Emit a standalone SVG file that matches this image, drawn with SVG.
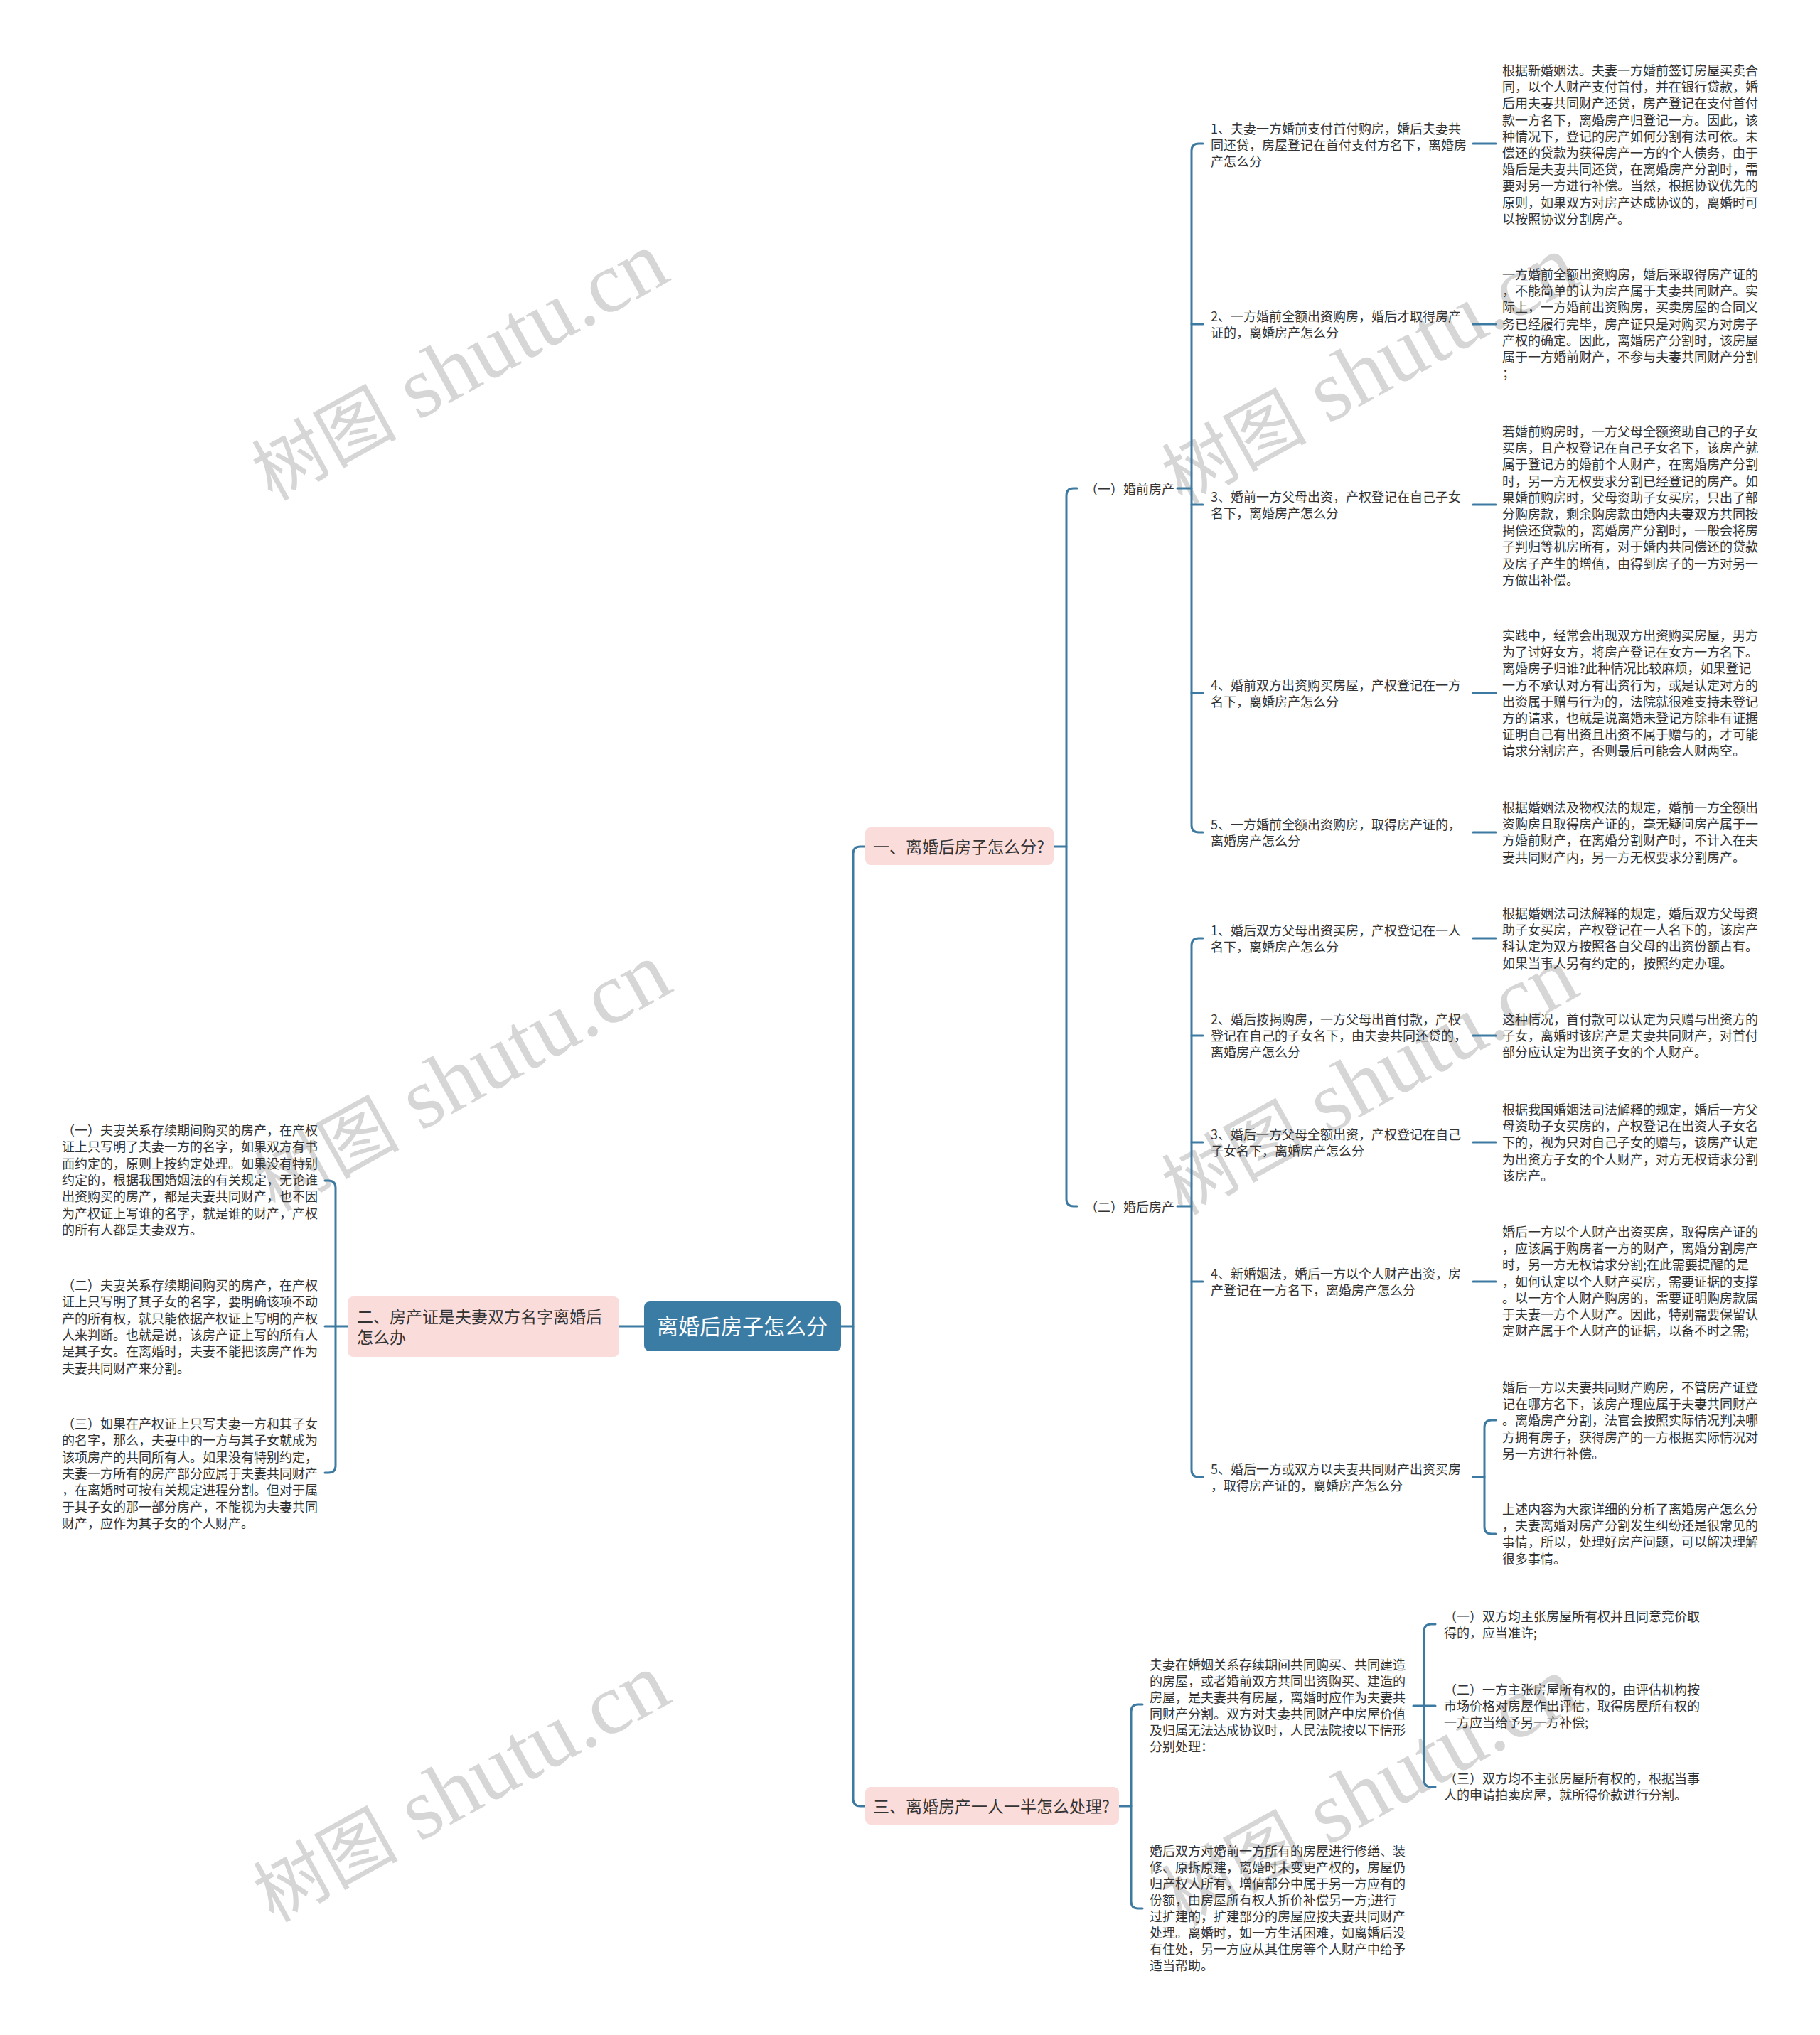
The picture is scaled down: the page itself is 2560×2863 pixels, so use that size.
<svg xmlns="http://www.w3.org/2000/svg" width="2560" height="2863" viewBox="0 0 2560 2863">
<style>
.t{font-family:'Noto Sans CJK SC','Noto Sans',sans-serif;font-size:18px;fill:#333}
.b{font-size:23px}
.r{font-size:30px;fill:#fff}
.c{fill:none;stroke:#3d7aa1;stroke-width:3;stroke-linecap:round}
.wm{font-family:'Liberation Serif','Noto Sans CJK SC',serif;fill:#d6d6d6}
.pk{fill:#fadcdb}
</style>
<rect width="2560" height="2863" fill="#fff"/>
<g id="watermarks">
<g transform="translate(646,516) rotate(-29)"><text class="wm" text-anchor="middle" y="38"><tspan font-size="102">树图</tspan><tspan font-size="122"> shutu.cn</tspan></text></g>
<g transform="translate(650,1516) rotate(-29)"><text class="wm" text-anchor="middle" y="38"><tspan font-size="102">树图</tspan><tspan font-size="122"> shutu.cn</tspan></text></g>
<g transform="translate(648,2516) rotate(-29)"><text class="wm" text-anchor="middle" y="38"><tspan font-size="102">树图</tspan><tspan font-size="122"> shutu.cn</tspan></text></g>
<g transform="translate(1926,521) rotate(-29)"><text class="wm" text-anchor="middle" y="38"><tspan font-size="102">树图</tspan><tspan font-size="122"> shutu.cn</tspan></text></g>
<g transform="translate(1926,1521) rotate(-29)"><text class="wm" text-anchor="middle" y="38"><tspan font-size="102">树图</tspan><tspan font-size="122"> shutu.cn</tspan></text></g>
<g transform="translate(1926,2521) rotate(-29)"><text class="wm" text-anchor="middle" y="38"><tspan font-size="102">树图</tspan><tspan font-size="122"> shutu.cn</tspan></text></g>
</g>
<g id="connectors">
<path class="c" d="M1183,1866 H1200"/>
<path class="c" d="M1217,1191 H1210 Q1200,1191 1200,1201 V2531 Q1200,2541 1210,2541 H1217"/>
<path class="c" d="M906,1866 H871"/>
<path class="c" d="M457,1661 H462 Q472,1661 472,1671 V2062 Q472,2072 462,2072 H457"/>
<path class="c" d="M489,1866 H457"/>
<path class="c" d="M1482,1191 H1500"/>
<path class="c" d="M1515,687 H1510 Q1500,687 1500,697 V1687 Q1500,1697 1510,1697 H1515"/>
<path class="c" d="M1656,687 H1676"/>
<path class="c" d="M1692,202 H1686 Q1676,202 1676,212 V1161 Q1676,1171 1686,1171 H1692"/>
<path class="c" d="M1676,456 H1692 M1676,710 H1692 M1676,975 H1692"/>
<path class="c" d="M1656,1697 H1676"/>
<path class="c" d="M1692,1320 H1686 Q1676,1320 1676,1330 V2068 Q1676,2078 1686,2078 H1692"/>
<path class="c" d="M1676,1457 H1692 M1676,1607 H1692 M1676,1803 H1692"/>
<path class="c" d="M2072,202 H2104 M2072,456 H2104 M2072,710 H2104 M2072,975 H2104 M2072,1171 H2104 M2072,1320 H2104 M2072,1457 H2104 M2072,1607 H2104 M2072,1803 H2104"/>
<path class="c" d="M2072,2078 H2088"/>
<path class="c" d="M2104,1998 H2098 Q2088,1998 2088,2008 V2148 Q2088,2158 2098,2158 H2104"/>
<path class="c" d="M1574,2541 H1591"/>
<path class="c" d="M1607,2398 H1601 Q1591,2398 1591,2408 V2675 Q1591,2685 1601,2685 H1607"/>
<path class="c" d="M1988,2400 H2019"/>
<path class="c" d="M2019,2285 H2013 Q2003,2285 2003,2295 V2504 Q2003,2514 2013,2514 H2019"/>
</g>
<g id="root">
<rect x="906" y="1831" width="277" height="70" rx="8" fill="#3b7ca5"/>
<text class="t r" x="1044" y="1877" text-anchor="middle">离婚后房子怎么分</text>
</g>
<g id="branch1">
<rect class="pk" x="1217" y="1164" width="265" height="53" rx="8"/>
<text class="t b" x="1228" y="1200">一、离婚后房子怎么分?</text>
</g>
<g id="branch2">
<rect class="pk" x="489" y="1824" width="382" height="85" rx="8"/>
<text class="t b" x="502" y="1861">二、房产证是夫妻双方名字离婚后<tspan x="502" dy="29">怎么办</tspan></text>
</g>
<g id="branch3">
<rect class="pk" x="1217" y="2514" width="357" height="53" rx="8"/>
<text class="t b" x="1228" y="2550">三、离婚房产一人一半怎么处理?</text>
</g>
<g id="pre">
<text class="t" x="1526" y="695">（一）婚前房产</text>
</g>
<g id="post">
<text class="t" x="1526" y="1705">（二）婚后房产</text>
</g>
<g id="i1"><text class="t" x="1703" y="188">1、夫妻一方婚前支付首付购房，婚后夫妻共<tspan x="1703" dy="23">同还贷，房屋登记在首付支付方名下，离婚房</tspan><tspan x="1703" dy="23">产怎么分</tspan></text></g>
<g id="i2"><text class="t" x="1703" y="452">2、一方婚前全额出资购房，婚后才取得房产<tspan x="1703" dy="23">证的，离婚房产怎么分</tspan></text></g>
<g id="i3"><text class="t" x="1703" y="706">3、婚前一方父母出资，产权登记在自己子女<tspan x="1703" dy="23">名下，离婚房产怎么分</tspan></text></g>
<g id="i4"><text class="t" x="1703" y="971">4、婚前双方出资购买房屋，产权登记在一方<tspan x="1703" dy="23">名下，离婚房产怎么分</tspan></text></g>
<g id="i5"><text class="t" x="1703" y="1167">5、一方婚前全额出资购房，取得房产证的，<tspan x="1703" dy="23">离婚房产怎么分</tspan></text></g>
<g id="j1"><text class="t" x="1703" y="1316">1、婚后双方父母出资买房，产权登记在一人<tspan x="1703" dy="23">名下，离婚房产怎么分</tspan></text></g>
<g id="j2"><text class="t" x="1703" y="1441">2、婚后按揭购房，一方父母出首付款，产权<tspan x="1703" dy="23">登记在自己的子女名下，由夫妻共同还贷的，</tspan><tspan x="1703" dy="23">离婚房产怎么分</tspan></text></g>
<g id="j3"><text class="t" x="1703" y="1603">3、婚后一方父母全额出资，产权登记在自己<tspan x="1703" dy="23">子女名下，离婚房产怎么分</tspan></text></g>
<g id="j4"><text class="t" x="1703" y="1799">4、新婚姻法，婚后一方以个人财产出资，房<tspan x="1703" dy="23">产登记在一方名下，离婚房产怎么分</tspan></text></g>
<g id="j5"><text class="t" x="1703" y="2074">5、婚后一方或双方以夫妻共同财产出资买房<tspan x="1703" dy="23">，取得房产证的，离婚房产怎么分</tspan></text></g>
<g id="d1"><text class="t" x="2113" y="106">根据新婚姻法。夫妻一方婚前签订房屋买卖合<tspan x="2113" dy="23.2">同，以个人财产支付首付，并在银行贷款，婚</tspan><tspan x="2113" dy="23.2">后用夫妻共同财产还贷，房产登记在支付首付</tspan><tspan x="2113" dy="23.2">款一方名下，离婚房产归登记一方。因此，该</tspan><tspan x="2113" dy="23.2">种情况下，登记的房产如何分割有法可依。未</tspan><tspan x="2113" dy="23.2">偿还的贷款为获得房产一方的个人债务，由于</tspan><tspan x="2113" dy="23.2">婚后是夫妻共同还贷，在离婚房产分割时，需</tspan><tspan x="2113" dy="23.2">要对另一方进行补偿。当然，根据协议优先的</tspan><tspan x="2113" dy="23.2">原则，如果双方对房产达成协议的，离婚时可</tspan><tspan x="2113" dy="23.2">以按照协议分割房产。</tspan></text></g>
<g id="d2"><text class="t" x="2113" y="393">一方婚前全额出资购房，婚后采取得房产证的<tspan x="2113" dy="23.2">，不能简单的认为房产属于夫妻共同财产。实</tspan><tspan x="2113" dy="23.2">际上，一方婚前出资购房，买卖房屋的合同义</tspan><tspan x="2113" dy="23.2">务已经履行完毕，房产证只是对购买方对房子</tspan><tspan x="2113" dy="23.2">产权的确定。因此，离婚房产分割时，该房屋</tspan><tspan x="2113" dy="23.2">属于一方婚前财产，不参与夫妻共同财产分割</tspan><tspan x="2113" dy="23.2">；</tspan></text></g>
<g id="d3"><text class="t" x="2113" y="614">若婚前购房时，一方父母全额资助自己的子女<tspan x="2113" dy="23.2">买房，且产权登记在自己子女名下，该房产就</tspan><tspan x="2113" dy="23.2">属于登记方的婚前个人财产，在离婚房产分割</tspan><tspan x="2113" dy="23.2">时，另一方无权要求分割已经登记的房产。如</tspan><tspan x="2113" dy="23.2">果婚前购房时，父母资助子女买房，只出了部</tspan><tspan x="2113" dy="23.2">分购房款，剩余购房款由婚内夫妻双方共同按</tspan><tspan x="2113" dy="23.2">揭偿还贷款的，离婚房产分割时，一般会将房</tspan><tspan x="2113" dy="23.2">子判归等机房所有，对于婚内共同偿还的贷款</tspan><tspan x="2113" dy="23.2">及房子产生的增值，由得到房子的一方对另一</tspan><tspan x="2113" dy="23.2">方做出补偿。</tspan></text></g>
<g id="d4"><text class="t" x="2113" y="901">实践中，经常会出现双方出资购买房屋，男方<tspan x="2113" dy="23.2">为了讨好女方，将房产登记在女方一方名下。</tspan><tspan x="2113" dy="23.2">离婚房子归谁?此种情况比较麻烦，如果登记</tspan><tspan x="2113" dy="23.2">一方不承认对方有出资行为，或是认定对方的</tspan><tspan x="2113" dy="23.2">出资属于赠与行为的，法院就很难支持未登记</tspan><tspan x="2113" dy="23.2">方的请求，也就是说离婚未登记方除非有证据</tspan><tspan x="2113" dy="23.2">证明自己有出资且出资不属于赠与的，才可能</tspan><tspan x="2113" dy="23.2">请求分割房产，否则最后可能会人财两空。</tspan></text></g>
<g id="d5"><text class="t" x="2113" y="1143">根据婚姻法及物权法的规定，婚前一方全额出<tspan x="2113" dy="23.2">资购房且取得房产证的，毫无疑问房产属于一</tspan><tspan x="2113" dy="23.2">方婚前财产，在离婚分割财产时，不计入在夫</tspan><tspan x="2113" dy="23.2">妻共同财产内，另一方无权要求分割房产。</tspan></text></g>
<g id="d6"><text class="t" x="2113" y="1292">根据婚姻法司法解释的规定，婚后双方父母资<tspan x="2113" dy="23.2">助子女买房，产权登记在一人名下的，该房产</tspan><tspan x="2113" dy="23.2">科认定为双方按照各自父母的出资份额占有。</tspan><tspan x="2113" dy="23.2">如果当事人另有约定的，按照约定办理。</tspan></text></g>
<g id="d7"><text class="t" x="2113" y="1441">这种情况，首付款可以认定为只赠与出资方的<tspan x="2113" dy="23.2">子女，离婚时该房产是夫妻共同财产，对首付</tspan><tspan x="2113" dy="23.2">部分应认定为出资子女的个人财产。</tspan></text></g>
<g id="d8"><text class="t" x="2113" y="1568">根据我国婚姻法司法解释的规定，婚后一方父<tspan x="2113" dy="23.2">母资助子女买房的，产权登记在出资人子女名</tspan><tspan x="2113" dy="23.2">下的，视为只对自己子女的赠与，该房产认定</tspan><tspan x="2113" dy="23.2">为出资方子女的个人财产，对方无权请求分割</tspan><tspan x="2113" dy="23.2">该房产。</tspan></text></g>
<g id="d9"><text class="t" x="2113" y="1740">婚后一方以个人财产出资买房，取得房产证的<tspan x="2113" dy="23.2">，应该属于购房者一方的财产，离婚分割房产</tspan><tspan x="2113" dy="23.2">时，另一方无权请求分割;在此需要提醒的是</tspan><tspan x="2113" dy="23.2">，如何认定以个人财产买房，需要证据的支撑</tspan><tspan x="2113" dy="23.2">。以一方个人财产购房的，需要证明购房款属</tspan><tspan x="2113" dy="23.2">于夫妻一方个人财产。因此，特别需要保留认</tspan><tspan x="2113" dy="23.2">定财产属于个人财产的证据，以备不时之需;</tspan></text></g>
<g id="d10a"><text class="t" x="2113" y="1959">婚后一方以夫妻共同财产购房，不管房产证登<tspan x="2113" dy="23.2">记在哪方名下，该房产理应属于夫妻共同财产</tspan><tspan x="2113" dy="23.2">。离婚房产分割，法官会按照实际情况判决哪</tspan><tspan x="2113" dy="23.2">方拥有房子，获得房产的一方根据实际情况对</tspan><tspan x="2113" dy="23.2">另一方进行补偿。</tspan></text></g>
<g id="d10b"><text class="t" x="2113" y="2130">上述内容为大家详细的分析了离婚房产怎么分<tspan x="2113" dy="23.2">，夫妻离婚对房产分割发生纠纷还是很常见的</tspan><tspan x="2113" dy="23.2">事情，所以，处理好房产问题，可以解决理解</tspan><tspan x="2113" dy="23.2">很多事情。</tspan></text></g>
<g id="l1"><text class="t" x="87" y="1597">（一）夫妻关系存续期间购买的房产，在产权<tspan x="87" dy="23.3">证上只写明了夫妻一方的名字，如果双方有书</tspan><tspan x="87" dy="23.3">面约定的，原则上按约定处理。如果没有特别</tspan><tspan x="87" dy="23.3">约定的，根据我国婚姻法的有关规定，无论谁</tspan><tspan x="87" dy="23.3">出资购买的房产，都是夫妻共同财产，也不因</tspan><tspan x="87" dy="23.3">为产权证上写谁的名字，就是谁的财产，产权</tspan><tspan x="87" dy="23.3">的所有人都是夫妻双方。</tspan></text></g>
<g id="l2"><text class="t" x="87" y="1815">（二）夫妻关系存续期间购买的房产，在产权<tspan x="87" dy="23.3">证上只写明了其子女的名字，要明确该项不动</tspan><tspan x="87" dy="23.3">产的所有权，就只能依据产权证上写明的产权</tspan><tspan x="87" dy="23.3">人来判断。也就是说，该房产证上写的所有人</tspan><tspan x="87" dy="23.3">是其子女。在离婚时，夫妻不能把该房产作为</tspan><tspan x="87" dy="23.3">夫妻共同财产来分割。</tspan></text></g>
<g id="l3"><text class="t" x="87" y="2010">（三）如果在产权证上只写夫妻一方和其子女<tspan x="87" dy="23.3">的名字，那么，夫妻中的一方与其子女就成为</tspan><tspan x="87" dy="23.3">该项房产的共同所有人。如果没有特别约定，</tspan><tspan x="87" dy="23.3">夫妻一方所有的房产部分应属于夫妻共同财产</tspan><tspan x="87" dy="23.3">，在离婚时可按有关规定进程分割。但对于属</tspan><tspan x="87" dy="23.3">于其子女的那一部分房产，不能视为夫妻共同</tspan><tspan x="87" dy="23.3">财产，应作为其子女的个人财产。</tspan></text></g>
<g id="b3a"><text class="t" x="1617" y="2349">夫妻在婚姻关系存续期间共同购买、共同建造<tspan x="1617" dy="23">的房屋，或者婚前双方共同出资购买、建造的</tspan><tspan x="1617" dy="23">房屋，是夫妻共有房屋，离婚时应作为夫妻共</tspan><tspan x="1617" dy="23">同财产分割。双方对夫妻共同财产中房屋价值</tspan><tspan x="1617" dy="23">及归属无法达成协议时，人民法院按以下情形</tspan><tspan x="1617" dy="23">分别处理：</tspan></text></g>
<g id="c1"><text class="t" x="2031" y="2281">（一）双方均主张房屋所有权并且同意竞价取<tspan x="2031" dy="23">得的，应当准许;</tspan></text></g>
<g id="c2"><text class="t" x="2031" y="2384">（二）一方主张房屋所有权的，由评估机构按<tspan x="2031" dy="23">市场价格对房屋作出评估，取得房屋所有权的</tspan><tspan x="2031" dy="23">一方应当给予另一方补偿;</tspan></text></g>
<g id="c3"><text class="t" x="2031" y="2509">（三）双方均不主张房屋所有权的，根据当事<tspan x="2031" dy="23">人的申请拍卖房屋，就所得价款进行分割。</tspan></text></g>
<g id="b3b"><text class="t" x="1617" y="2611">婚后双方对婚前一方所有的房屋进行修缮、装<tspan x="1617" dy="23">修、原拆原建，离婚时未变更产权的，房屋仍</tspan><tspan x="1617" dy="23">归产权人所有，增值部分中属于另一方应有的</tspan><tspan x="1617" dy="23">份额，由房屋所有权人折价补偿另一方;进行</tspan><tspan x="1617" dy="23">过扩建的，扩建部分的房屋应按夫妻共同财产</tspan><tspan x="1617" dy="23">处理。离婚时，如一方生活困难，如离婚后没</tspan><tspan x="1617" dy="23">有住处，另一方应从其住房等个人财产中给予</tspan><tspan x="1617" dy="23">适当帮助。</tspan></text></g>
</svg>
